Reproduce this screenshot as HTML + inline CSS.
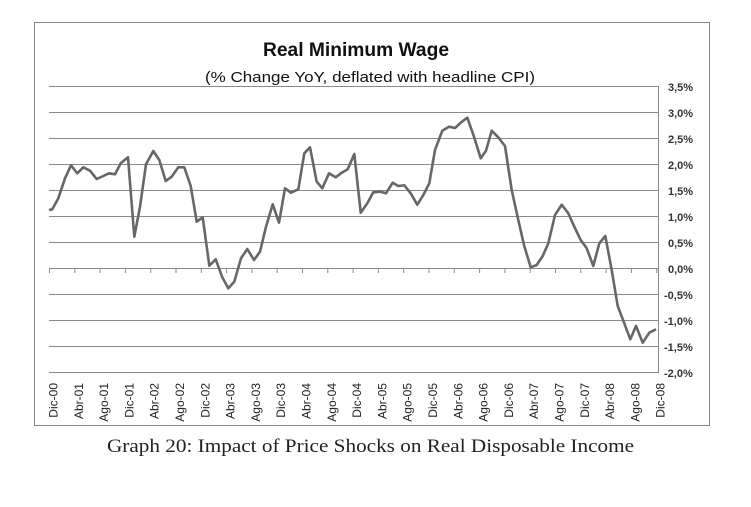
<!DOCTYPE html>
<html><head><meta charset="utf-8"><style>
html,body{margin:0;padding:0;background:#fff;}
svg{display:block;}
</style></head><body>
<svg width="751" height="507" xmlns="http://www.w3.org/2000/svg">
<rect x="34.5" y="22.5" width="675" height="403" fill="#fff" stroke="#888" stroke-width="1"/>
<text x="356" y="56" text-anchor="middle" font-family="Liberation Sans, sans-serif" font-weight="bold" font-size="19" fill="#111" textLength="186" lengthAdjust="spacingAndGlyphs">Real Minimum Wage</text>
<text x="370" y="82" text-anchor="middle" font-family="Liberation Sans, sans-serif" font-size="15" fill="#111" textLength="330" lengthAdjust="spacingAndGlyphs">(% Change YoY, deflated with headline CPI)</text>
<g stroke="#8a8a8a" stroke-width="1">
<line x1="49" x2="658" y1="86.5" y2="86.5"/>
<line x1="49" x2="658" y1="112.5" y2="112.5"/>
<line x1="49" x2="658" y1="138.5" y2="138.5"/>
<line x1="49" x2="658" y1="164.5" y2="164.5"/>
<line x1="49" x2="658" y1="190.5" y2="190.5"/>
<line x1="49" x2="658" y1="216.5" y2="216.5"/>
<line x1="49" x2="658" y1="242.5" y2="242.5"/>
<line x1="49" x2="658" y1="268.5" y2="268.5"/>
<line x1="49" x2="658" y1="294.5" y2="294.5"/>
<line x1="49" x2="658" y1="320.5" y2="320.5"/>
<line x1="49" x2="658" y1="346.5" y2="346.5"/>
<line x1="49" x2="658" y1="372.5" y2="372.5"/>
<line x1="658.5" x2="658.5" y1="86" y2="373"/>
</g>
<g font-family="Liberation Sans, sans-serif" font-size="11" font-weight="bold" fill="#333" text-anchor="start">
<text x="668" y="91">3,5%</text>
<text x="668" y="117">3,0%</text>
<text x="668" y="143">2,5%</text>
<text x="668" y="169">2,0%</text>
<text x="668" y="195">1,5%</text>
<text x="668" y="221">1,0%</text>
<text x="668" y="247">0,5%</text>
<text x="668" y="273">0,0%</text>
<text x="664" y="299">-0,5%</text>
<text x="664" y="325">-1,0%</text>
<text x="664" y="351">-1,5%</text>
<text x="664" y="377">-2,0%</text>
</g>
<polyline fill="none" stroke="#676767" stroke-width="2.6" stroke-linejoin="round" points="
49,210 52.3,209.3 58.3,198.3 65,178.3 71,165.3 77.3,173.3 83.3,167.3 90,170.7 96.7,179 103.3,176 109,173.3 115,174.3 120.7,163.3 128,157.3 134.3,236.7 140,206.7 146,164.3 153.3,151 159.3,160 165.7,181 171.7,176.7 178.3,167.3 184.3,167.3 190.7,186 196.7,221.7 202.7,217.3 209.3,265.7 215.7,259.3 222.3,277.3 228.3,288.3 234.3,281.7 241,258.3 247.3,249 254,260 260,251.7 266,226.7 272.7,204.3 279,222.7 285,188.3 291,192.7 298.3,189.3 304.3,153.3 310,147.3 316.7,181.7 322.3,188.3 329,173.3 335.7,177.3 341.7,172.7 347.7,169.3 354.3,154 360.7,212.7 367.3,203.3 373.3,192.3 380,191.7 386,193.3 392.7,182.7 398.3,186 404.3,185.3 410.7,193.3 417.3,204.7 423.3,195 429.3,183.3 435,150 442.3,130.7 449,126.7 455,128 461,122.5 467.3,117.7 474,136.7 480.7,158.3 486,150.7 491.7,130.7 498.3,137.3 505,146 511.7,190 518.3,220 524,245 530.7,267.3 536.7,265 542.7,256 548.3,243.3 555,215 561.7,204.7 568.3,213.3 574.3,226.7 580.7,240 586.7,248.3 593.3,266 599.3,243.3 605.3,236 611.7,270 617.7,306 624.3,323.3 630.3,339.3 636,326 642.7,342.7 649.3,332.7 656,329.3"/>
<g font-family="Liberation Sans, sans-serif" font-size="12" fill="#222" text-anchor="end">
<text transform="translate(57.5,383) rotate(-90)">Dic-00</text>
<text transform="translate(82.8,383) rotate(-90)">Abr-01</text>
<text transform="translate(108.1,383) rotate(-90)">Ago-01</text>
<text transform="translate(133.4,383) rotate(-90)">Dic-01</text>
<text transform="translate(158.7,383) rotate(-90)">Abr-02</text>
<text transform="translate(184,383) rotate(-90)">Ago-02</text>
<text transform="translate(209.3,383) rotate(-90)">Dic-02</text>
<text transform="translate(234.6,383) rotate(-90)">Abr-03</text>
<text transform="translate(259.9,383) rotate(-90)">Ago-03</text>
<text transform="translate(285.2,383) rotate(-90)">Dic-03</text>
<text transform="translate(310.5,383) rotate(-90)">Abr-04</text>
<text transform="translate(335.8,383) rotate(-90)">Ago-04</text>
<text transform="translate(361.1,383) rotate(-90)">Dic-04</text>
<text transform="translate(386.4,383) rotate(-90)">Abr-05</text>
<text transform="translate(411.7,383) rotate(-90)">Ago-05</text>
<text transform="translate(437,383) rotate(-90)">Dic-05</text>
<text transform="translate(462.3,383) rotate(-90)">Abr-06</text>
<text transform="translate(487.6,383) rotate(-90)">Ago-06</text>
<text transform="translate(512.9,383) rotate(-90)">Dic-06</text>
<text transform="translate(538.2,383) rotate(-90)">Abr-07</text>
<text transform="translate(563.5,383) rotate(-90)">Ago-07</text>
<text transform="translate(588.8,383) rotate(-90)">Dic-07</text>
<text transform="translate(614.1,383) rotate(-90)">Abr-08</text>
<text transform="translate(639.4,383) rotate(-90)">Ago-08</text>
<text transform="translate(664.7,383) rotate(-90)">Dic-08</text>
</g>
<g stroke="#8a8a8a" stroke-width="1">
<line x1="49.5" x2="49.5" y1="268" y2="273"/><line x1="74.8" x2="74.8" y1="268" y2="273"/><line x1="100.1" x2="100.1" y1="268" y2="273"/><line x1="125.4" x2="125.4" y1="268" y2="273"/><line x1="150.7" x2="150.7" y1="268" y2="273"/><line x1="176" x2="176" y1="268" y2="273"/><line x1="201.3" x2="201.3" y1="268" y2="273"/><line x1="226.6" x2="226.6" y1="268" y2="273"/><line x1="251.9" x2="251.9" y1="268" y2="273"/><line x1="277.2" x2="277.2" y1="268" y2="273"/><line x1="302.5" x2="302.5" y1="268" y2="273"/><line x1="327.8" x2="327.8" y1="268" y2="273"/><line x1="353.1" x2="353.1" y1="268" y2="273"/><line x1="378.4" x2="378.4" y1="268" y2="273"/><line x1="403.7" x2="403.7" y1="268" y2="273"/><line x1="429" x2="429" y1="268" y2="273"/><line x1="454.3" x2="454.3" y1="268" y2="273"/><line x1="479.6" x2="479.6" y1="268" y2="273"/><line x1="504.9" x2="504.9" y1="268" y2="273"/><line x1="530.2" x2="530.2" y1="268" y2="273"/><line x1="555.5" x2="555.5" y1="268" y2="273"/><line x1="580.8" x2="580.8" y1="268" y2="273"/><line x1="606.1" x2="606.1" y1="268" y2="273"/><line x1="631.4" x2="631.4" y1="268" y2="273"/><line x1="656.7" x2="656.7" y1="268" y2="273"/>
</g>
<text x="107" y="452" font-family="Liberation Serif, serif" font-size="19" fill="#222" textLength="527" lengthAdjust="spacingAndGlyphs">Graph 20: Impact of Price Shocks on Real Disposable Income</text>
</svg>
</body></html>
